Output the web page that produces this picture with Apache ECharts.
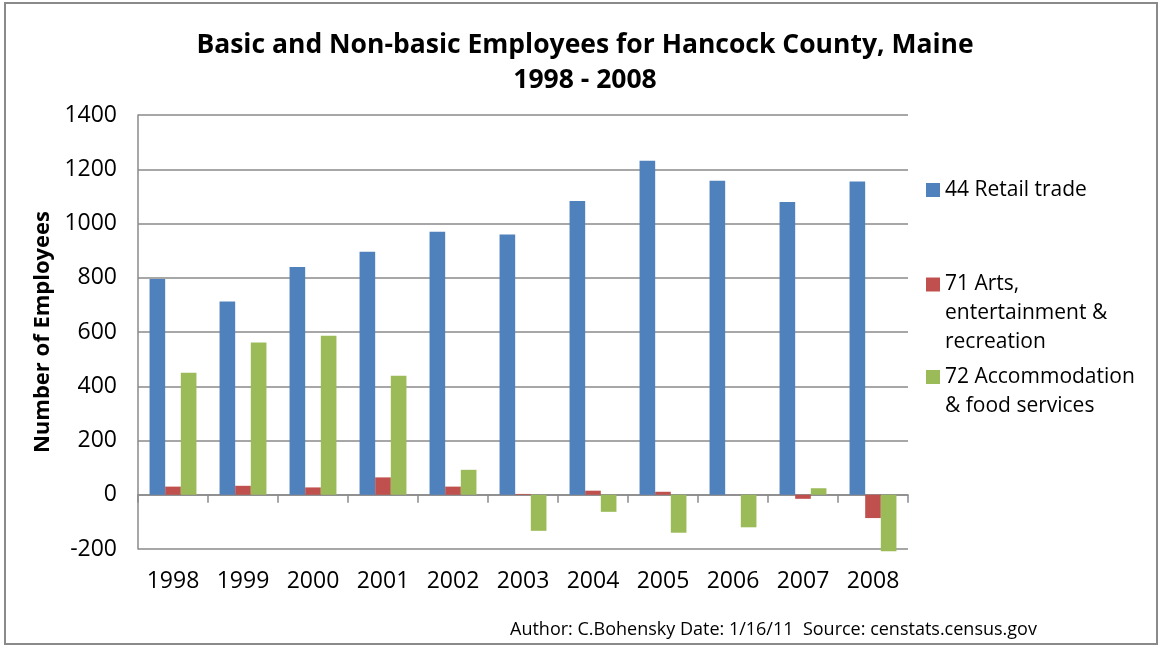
<!DOCTYPE html>
<html>
<head>
<meta charset="utf-8">
<title>Basic and Non-basic Employees for Hancock County, Maine</title>
<script src="https://cdn.jsdelivr.net/npm/echarts@6/dist/echarts.min.js"></script>
<style>
  html, body { margin: 0; padding: 0; background: #fff; }
  #chart { width: 1160px; height: 655px; }
</style>
</head>
<body>
<div id="chart"></div>
<script>
// Years on the category axis
var years = ['1998', '1999', '2000', '2001', '2002', '2003', '2004', '2005', '2006', '2007', '2008'];

// Employees by sector (NAICS code)
var retailTrade = [795, 712, 840, 896, 970, 959, 1083, 1231, 1158, 1079, 1155];
var artsEntertainment = [30, 33, 27, 64, 30, 3, 15, 11, 0, -15, -86];
var accommodationFood = [450, 561, 586, 439, 92, -133, -63, -140, -120, 24, -208];

var seriesNames = ['44 Retail trade', '71 Arts, entertainment & recreation', '72 Accommodation & food services'];
// Leading blank lines keep each swatch level with the first line of its label
var legendLabels = ['44 Retail trade', '\n\n71 Arts,\nentertainment &\nrecreation', '\n72 Accommodation\n& food services'];

var FONT = '"Open Sans", sans-serif';
var GRID_COLOR = '#8a8a8a';
var colors = ['#4f81bd', '#c0504d', '#9bbb59'];

var chart = echarts.init(document.getElementById('chart'), null, { renderer: 'canvas' });

function legendFor(i, top) {
  return {
    orient: 'vertical',
    left: 926,
    top: top,
    padding: 0,
    data: [seriesNames[i]],
    icon: 'rect',
    itemWidth: 14,
    itemHeight: 14,
    itemGap: 0,
    selectedMode: false,
    formatter: function () { return legendLabels[i]; },
    textStyle: {
      fontFamily: FONT,
      fontSize: 21,
      color: '#000',
      lineHeight: 29
    }
  };
}

var option = {
  animation: false,
  backgroundColor: '#fff',
  color: colors,
  title: {
    text: 'Basic and Non-basic Employees for Hancock County, Maine\n1998 - 2008',
    left: 580,
    textAlign: 'center',
    top: 23,
    textStyle: {
      fontFamily: FONT,
      fontSize: 26.5,
      fontWeight: 'bold',
      color: '#000',
      lineHeight: 35
    }
  },
  legend: [
    legendFor(0, 175.5),
    legendFor(1, 212),
    legendFor(2, 333.5)
  ],
  grid: {
    left: 138,
    right: 252,
    top: 115,
    bottom: 106,
    containLabel: false
  },
  xAxis: [
    {
      type: 'category',
      data: years,
      position: 'bottom',
      axisLine: { show: false, onZero: false },
      axisTick: { show: false },
      axisLabel: {
        fontFamily: FONT,
        fontSize: 23,
        color: '#000',
        margin: 21
      },
      splitLine: { show: false }
    },
    {
      type: 'category',
      data: years,
      position: 'bottom',
      axisLine: { show: true, onZero: true, lineStyle: { color: GRID_COLOR, width: 1.5 } },
      axisTick: { show: true, length: 8, lineStyle: { color: GRID_COLOR, width: 1.5 } },
      axisLabel: { show: false },
      splitLine: { show: false }
    }
  ],
  yAxis: {
    type: 'value',
    min: -200,
    max: 1400,
    interval: 200,
    name: 'Number of Employees',
    nameLocation: 'middle',
    nameGap: 78,
    nameTextStyle: {
      fontFamily: FONT,
      fontSize: 22,
      fontWeight: 'bold',
      color: '#000'
    },
    axisLine: { show: true, lineStyle: { color: GRID_COLOR, width: 1.5 } },
    axisTick: { show: false },
    axisLabel: {
      fontFamily: FONT,
      fontSize: 23,
      color: '#000',
      margin: 21,
      formatter: function (v) { return String(v); }
    },
    splitLine: { show: true, lineStyle: { color: GRID_COLOR, width: 1.5 } }
  },
  series: [
    { name: seriesNames[0], type: 'bar', data: retailTrade, xAxisIndex: 0, barGap: '0%', barCategoryGap: '33%', clip: false },
    { name: seriesNames[1], type: 'bar', data: artsEntertainment, xAxisIndex: 0, barGap: '0%', barCategoryGap: '33%', clip: false },
    { name: seriesNames[2], type: 'bar', data: accommodationFood, xAxisIndex: 0, barGap: '0%', barCategoryGap: '33%', clip: false }
  ],
  graphic: [
    {
      type: 'rect',
      shape: { x: 5, y: 3, width: 1152, height: 641 },
      style: { fill: null, stroke: '#8a8a8a', lineWidth: 2 },
      silent: true,
      z: -1
    },
    {
      type: 'text',
      left: 510,
      top: 621,
      style: {
        text: 'Author: C.Bohensky Date: 1/16/11  Source: censtats.census.gov',
        fontFamily: FONT,
        fontSize: 18,
        fill: '#000'
      }
    }
  ]
};

chart.setOption(option);
</script>
</body>
</html>
